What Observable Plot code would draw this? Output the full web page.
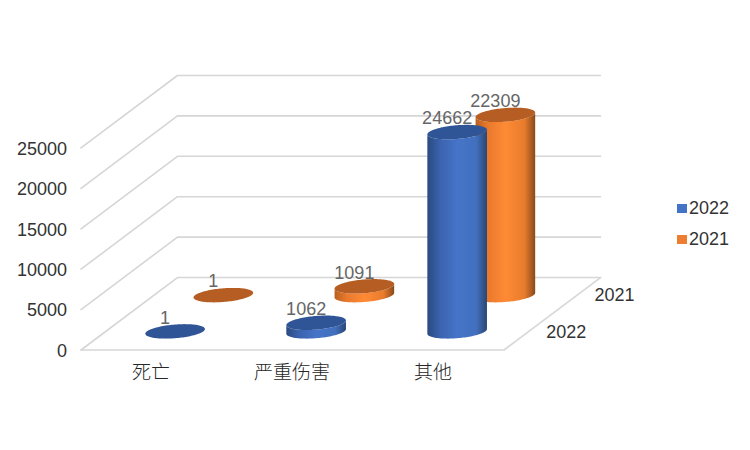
<!DOCTYPE html>
<html>
<head>
<meta charset="utf-8">
<script src="https://cdn.jsdelivr.net/npm/d3@7"></script>
<script src="https://cdn.jsdelivr.net/npm/@observablehq/plot@0.6"></script>
<style>
html,body{margin:0;padding:0;background:#fff}
#wrap{position:relative;width:750px;height:450px;overflow:hidden}
#legend{position:absolute;left:677px;top:193px;font:18px "Liberation Sans",Arial,sans-serif;color:#333;line-height:31px}
#legend div{display:flex;align-items:center;height:31px}
#legend i{display:block;width:10px;height:9px;margin-right:2px}
</style>
</head>
<body>
<div id="wrap"><div id="legend"></div></div>
<script>
const categories = ["死亡", "严重伤害", "其他"];
const seriesNames = ["2022", "2021"];
const values2022 = [1, 1062, 24662];
const values2021 = [1, 1091, 22309];
const valueTicks = [0, 5000, 10000, 15000, 20000, 25000];
const seriesDepth = [0.25, 0.75];
const seriesValues = [values2022, values2021];
const faceColors = ["#2f5597", "#b55d22"];
const legendColors = ["#4472c4", "#ed7d31"];
const bodyFills = ["url(#gradBlue)", "url(#gradOrange)"];

// Oblique projection, in data units: one unit of depth moves the point
// sideways by this many categories and upward by this many value units.
const depthX = 0.684, depthY = 8970;
const radiusCat = 0.2, radiusDepth = 0.1;
const project = (cat, depth, value) => ({X: cat + depth * depthX, Y: value + depth * depthY});

const px = radiusCat, py = radiusDepth * depthX, pz = radiusDepth * depthY;
const R = Math.hypot(px, py), t0 = Math.atan2(py, px);
const us = d3.range(0, 61).map(i => i / 60 * Math.PI);

function outline(cat, depth, value, heightLow) {
  const c = project(cat + 0.5, depth, 0);
  return us.map(u => ({
    X: c.X + R * Math.cos(u),
    back: c.Y + value + pz * Math.sin(t0 + u),
    front: c.Y + value + pz * Math.sin(t0 - u),
    low: c.Y + heightLow + pz * Math.sin(t0 - u)
  }));
}

const grid = "#d6d6d6";
const marks = [];

// walls and floor
valueTicks.forEach(v => {
  const a = project(0, 0, v), b = project(0, 1, v), c = project(3, 1, v);
  marks.push(Plot.line([a, b, c], {x: "X", y: "Y", stroke: grid, strokeWidth: 1.6}));
});
{
  const p = [project(0, 0, 0), project(3, 0, 0), project(3, 1, 0)];
  marks.push(Plot.line(p, {x: "X", y: "Y", stroke: grid, strokeWidth: 1.6}));
}

// cylinders, back row first
[1, 0].forEach(s => {
  categories.forEach((_, i) => {
    const v = seriesValues[s][i];
    const o = outline(i, seriesDepth[s], v, 0);
    marks.push(Plot.areaY(o, {x: "X", y1: "low", y2: "front", fill: bodyFills[s]}));
    marks.push(Plot.areaY(o, {x: "X", y1: "front", y2: "back", fill: faceColors[s]}));
  });
});

// value labels
const labelRows = [1, 0].flatMap(s => categories.map((_, i) => ({
  ...project(i + 0.5, seriesDepth[s], seriesValues[s][i]),
  text: String(seriesValues[s][i])
})));
const fontLatin = "Liberation Sans, Arial, sans-serif";
const fontCjk = "Noto Sans CJK SC, sans-serif";
marks.push(Plot.text(labelRows, {x: "X", y: "Y", text: "text", dx: -10.5, dy: -14, fontSize: 18, fill: "#666666", fontFamily: fontLatin}));

// value axis
marks.push(Plot.text(valueTicks, {x: () => 0, y: d => d, text: d => String(d), textAnchor: "end", dx: -14, dy: 1, fontSize: 18, fill: "#333333", fontFamily: fontLatin}));

// category axis
marks.push(Plot.text(categories, {x: (d, i) => i + 0.5, y: () => 0, text: d => d, dy: 23, dx: -0.5, fontSize: 19, fontWeight: 300, fill: "#262626", fontFamily: fontCjk}));

// depth axis
marks.push(Plot.text(seriesNames, {
  x: (d, i) => project(3, seriesDepth[i], 0).X,
  y: (d, i) => project(3, seriesDepth[i], 0).Y,
  text: d => d, textAnchor: "start", dx: 18, fontSize: 18, fill: "#333333", fontFamily: fontLatin
}));

const chart = Plot.plot({
  width: 750, height: 450,
  margin: 0,
  x: {type: "linear", domain: [0, 3 + depthX], range: [80.5, 600], axis: null},
  y: {type: "linear", domain: [0, 25000 + depthY], range: [349.5, 75], axis: null},
  style: {background: "#fff", overflow: "visible"},
  marks
});

const defs = d3.select(chart).insert("defs", ":first-child");
function gradient(id, stops) {
  const g = defs.append("linearGradient").attr("id", id).attr("x1", 0).attr("x2", 1).attr("y1", 0).attr("y2", 0);
  stops.forEach(([o, c]) => g.append("stop").attr("offset", o).attr("stop-color", c));
}
gradient("gradBlue", [[0, "#2a4a80"], [0.22, "#3b63ae"], [0.5, "#4674c8"], [0.82, "#4270be"], [1, "#2a4674"]]);
gradient("gradOrange", [[0, "#b9601f"], [0.2, "#e8792c"], [0.5, "#ff8a35"], [0.82, "#e87c2c"], [1, "#8a4a1b"]]);

const wrap = document.getElementById("wrap");
wrap.insertBefore(chart, wrap.firstChild);

const legend = d3.select("#legend");
seriesNames.forEach((n, i) => {
  const row = legend.append("div");
  row.append("i").style("background", legendColors[i]);
  row.append("span").text(n);
});
</script>
</body>
</html>
